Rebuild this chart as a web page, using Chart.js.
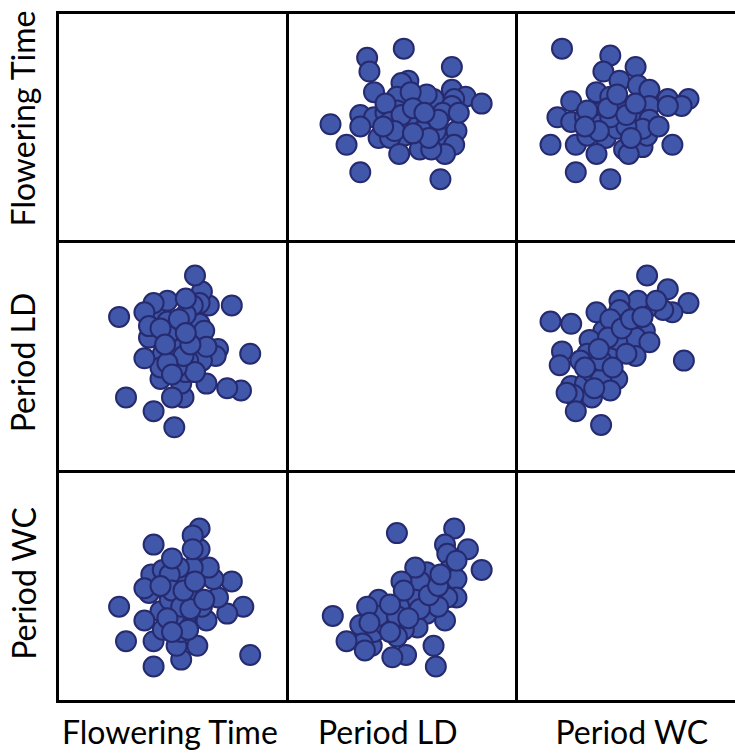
<!DOCTYPE html>
<html>
<head>
<meta charset="utf-8">
<script src="https://cdn.jsdelivr.net/npm/chart.js@4.4.1/dist/chart.umd.min.js"></script>
<style>
  html, body { margin: 0; padding: 0; background: #fff; }
  #wrap { position: relative; width: 735px; height: 755px; overflow: hidden; }
  canvas { position: absolute; }
  .line { position: absolute; background: #000; }
  .lbl { position: absolute; font-family: Lato, "Noto Sans", sans-serif; font-size: 32px; color: #000; white-space: nowrap; line-height: normal; }
</style>
</head>
<body>
<div id="wrap"></div>
<script>
// Variables del gráfico (orden de filas / columnas)
const varNames = ["Flowering Time", "Period LD", "Period WC"];

// Flowering Time vs Period LD
const ftLdFt = [84,80,74,76,70,69,65,63,62,62,66,63,60,62,59,55,54,56,57,55,52,56,51,50,45,46,45,44,43,45,48,42,38,38,40,40,42,30,27,51,48,60,64,48,53,65,56,52,55,58,56,48,45,50,47];
const ftLdLd = [51,35,36,72,53,50,38,48,56,64,72,78,85,73,72,32,38,43,48,56,61,68,19,32,40,51,45,58,64,70,74,73,69,49,58,63,26,32,67,53,65,43,61,59,66,54,75,45,50,55,60,47,62,42,55];

// Flowering Time vs Period WC
const ftWcFt = [84,81,76,74,70,68,66,65,61,63,57,59,62,62,59,54,52,54,56,51,54,53,42,42,46,45,49,38,40,41,46,49,38,42,30,27,50,59,54,57,58,55,45,48,60,64,50,50];
const ftWcWc = [20,41,52,38,45,53,58,35,24,41,45,58,66,75,72,18,24,30,34,37,53,58,15,26,31,39,44,35,47,55,57,55,49,68,26,41,48,66,41,31,40,48,50,36,52,44,30,62];

// Period LD vs Period WC
const ldWcLd = [85,79,73,69,70,71,74,74,70,69,65,64,61,64,61,58,56,57,56,52,46,51,49,50,48,37,38,43,40,40,32,35,33,26,20,51,48,48,74,66,34,58,62,53,45,66,45,36,67];
const ldWcWc = [57,66,75,68,64,57,53,45,45,35,15,24,38,48,56,52,58,32,44,20,19,31,41,52,73,24,30,33,44,37,33,41,25,26,37,48,37,28,61,41,22,40,46,36,42,50,30,34,55];

const FILL = "#4157a9";
const EDGE = "#262a6f";

// Posición de las celdas
const colLeft = [57, 287, 516];
const colWidth = [230, 229, 230];
const rowTop = [12, 241, 471];
const rowHeight = [229, 230, 230];

// Valores de cada variable según el par de la celda
const pairValues = (rowVar, colVar) => {
    const key = [rowVar, colVar].sort().join("-");
    const pairs = {
        "0-1": [ftLdFt, ftLdLd],
        "0-2": [ftWcFt, ftWcWc],
        "1-2": [ldWcLd, ldWcWc]
    };
    const [a, b] = pairs[key];
    const lo = Math.min(rowVar, colVar);
    const xs = colVar === lo ? a : b;
    const ys = rowVar === lo ? a : b;
    return xs.map((x, i) => ({ x: x, y: ys[i] }));
};

const wrap = document.querySelector("#wrap");

// Crear los gráficos de dispersión
for (let r = 0; r < 3; r++) {
    for (let c = 0; c < 3; c++) {
        if (r === c) continue;
        const canvas = document.createElement("canvas");
        canvas.width = colWidth[c];
        canvas.height = rowHeight[r];
        canvas.style.left = colLeft[c] + "px";
        canvas.style.top = rowTop[r] + "px";
        wrap.appendChild(canvas);
        new Chart(canvas, {
            type: "scatter",
            data: {
                datasets: [{
                    data: pairValues(r, c),
                    backgroundColor: FILL,
                    borderColor: EDGE,
                    borderWidth: 2,
                    pointRadius: 10,
                    pointHoverRadius: 10,
                    clip: false
                }]
            },
            options: {
                responsive: false,
                animation: false,
                events: [],
                layout: { padding: 0, autoPadding: false },
                plugins: { legend: { display: false }, tooltip: { enabled: false } },
                scales: {
                    x: { display: false, min: 0, max: 100 },
                    y: { display: false, min: 0, max: 100 }
                }
            }
        });
    }
}

// Líneas de la cuadrícula
const addLine = (left, top, width, height) => {
    const d = document.createElement("div");
    d.className = "line";
    Object.assign(d.style, { left: left + "px", top: top + "px", width: width + "px", height: height + "px" });
    wrap.appendChild(d);
};
[12.5, 241, 471, 701.5].forEach(y => addLine(55.5, y - 1.5, 700, 3));
[57, 287, 516].forEach(x => addLine(x - 1.5, 11, 3, 692));

// Etiquetas
const addLabel = (text, cx, cy, vertical) => {
    const d = document.createElement("div");
    d.className = "lbl";
    d.textContent = text;
    wrap.appendChild(d);
    const w = d.offsetWidth, h = d.offsetHeight;
    d.style.left = (cx - w / 2) + "px";
    d.style.top = (cy - h / 2) + "px";
    if (vertical) d.style.transform = "rotate(-90deg)";
};
const bottomX = [170, 388, 632];
const leftY = [118, 362, 583];
varNames.forEach((name, i) => {
    addLabel(name, bottomX[i], 731, false);
    addLabel(name, 23, leftY[i], true);
});
</script>
</body>
</html>
